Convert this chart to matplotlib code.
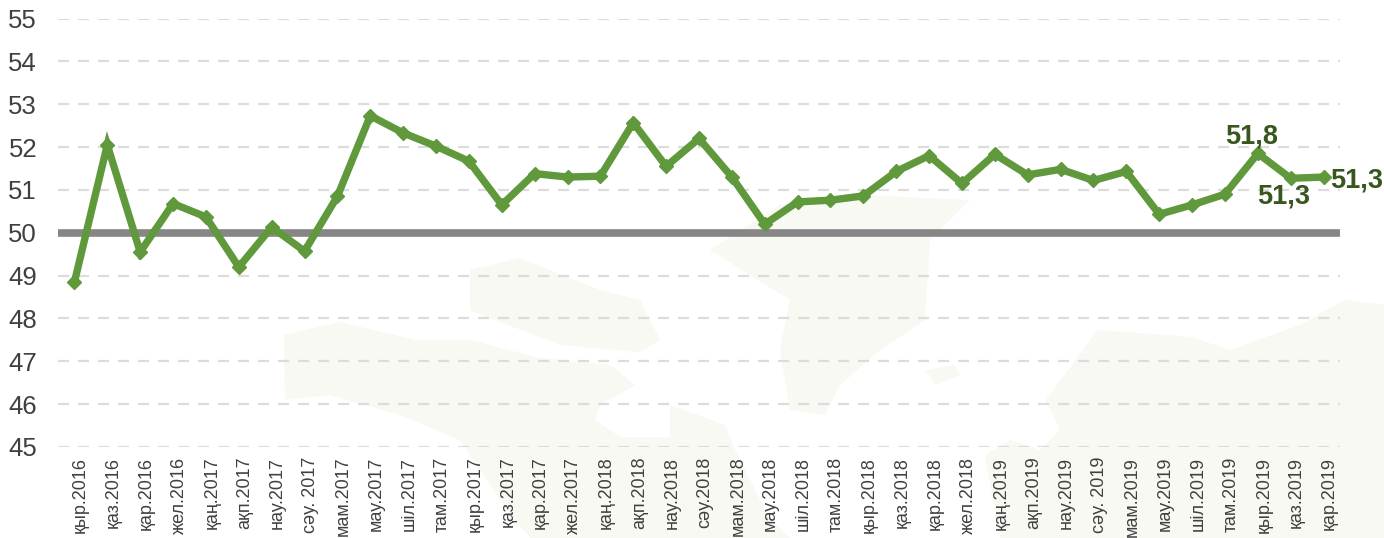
import matplotlib
matplotlib.use('Agg')
import matplotlib.pyplot as plt
from matplotlib.patches import Polygon
from matplotlib.transforms import ScaledTranslation

months = ['қыр.2016','қаз.2016','қар.2016','жел.2016','қаң.2017','ақп.2017','нау.2017','сәу. 2017','мам.2017','мау.2017','шіл.2017','там.2017','қыр.2017','қаз.2017','қар.2017','жел.2017','қаң.2018','ақп.2018','нау.2018','сәу.2018','мам.2018','мау.2018','шіл.2018','там.2018','қыр.2018','қаз.2018','қар.2018','жел.2018','қаң.2019','ақп.2019','нау.2019','сәу. 2019','мам.2019','мау.2019','шіл.2019','там.2019','қыр.2019','қаз.2019','қар.2019']
pmi = [48.85,52.05,49.55,50.68,50.37,49.2,50.13,49.57,50.85,52.73,52.33,52.02,51.67,50.65,51.38,51.3,51.32,52.57,51.55,52.2,51.3,50.2,50.72,50.76,50.86,51.43,51.8,51.15,51.83,51.35,51.48,51.22,51.43,50.43,50.65,50.9,51.85,51.27,51.3]
yticks = [45,46,47,48,49,50,51,52,53,54,55]
threshold = 50
notes = [(36,'51,8'),(37,'51,3'),(38,'51,3')]

W,H = 1384,538
plt.rcParams['font.family'] = ['Liberation Sans','DejaVu Sans']
fig = plt.figure(figsize=(W/100,H/100),dpi=100)

# faint world-map watermark behind the chart (decoration, figure pixels)
watermark = [
    [(284,335),(340,322),(415,340),(470,340),(540,358),(610,365),(635,385),(600,405),(595,420),(620,437),(670,437),(670,405),(725,425),(735,450),(770,520),(790,538),(530,538),(500,500),(460,440),(400,415),(330,395),(285,400)],
    [(470,270),(520,258),(600,290),(640,300),(660,340),(640,352),(560,345),(470,310)],
    [(710,250),(780,205),(860,195),(970,200),(930,240),(925,320),(880,350),(840,385),(825,415),(790,410),(780,350),(790,300)],
    [(925,370),(955,365),(960,375),(935,385)],
    [(1046,400),(1098,330),(1191,337),(1230,350),(1300,325),(1345,300),(1384,305),(1384,538),(1000,538),(985,455),(1010,440),(1040,450),(1060,430)],
]
for poly in watermark:
    fig.add_artist(Polygon([(x/W,1-y/H) for x,y in poly],closed=True,transform=fig.transFigure,
                           facecolor='#f7f9f2',edgecolor='none',zorder=0))

ax = fig.add_axes([58/W,1-447/H,1282/W,428.5/H],zorder=2)
ax.set_xlim(-0.5,len(months)-0.5)
ax.set_ylim(45,55)
ax.patch.set_alpha(0)
for s in ax.spines.values():
    s.set_visible(False)
ax.set_yticks(yticks)
ax.set_xticks(range(len(months)))
ax.set_xticklabels(months,rotation=90,fontsize=13,color='#404040')
ax.tick_params(axis='x',length=0,pad=7)
ax.tick_params(axis='y',length=0,pad=15,labelsize=18.5,labelcolor='#404040')
shift = ScaledTranslation(6/100,0,fig.dpi_scale_trans)
for lab in ax.get_xticklabels():
    lab.set_transform(lab.get_transform()+shift)
ax.grid(axis='y',color='#dcdcdc',lw=1.6,ls=(0,(5,4)))
ax.set_axisbelow(True)
ax.axhline(threshold,color='#868686',lw=5.5,zorder=2)
ax.plot(range(len(months)),pmi,color='#5f993c',lw=5.3,marker='D',ms=7.5,zorder=3,solid_joinstyle='miter')
dark='#38571f'
offsets = [(-6,17),(-7,-18),(7,-3)]
aligns = ['center','center','left']
for (i,t),(dx,dy),ha in zip(notes,offsets,aligns):
    ax.annotate(t,(i,pmi[i]),xytext=(dx*0.72,dy*0.72),textcoords='offset points',ha=ha,va='center',fontsize=19.5,fontweight='bold',color=dark,zorder=4)
fig.savefig('out.png',dpi=100)
